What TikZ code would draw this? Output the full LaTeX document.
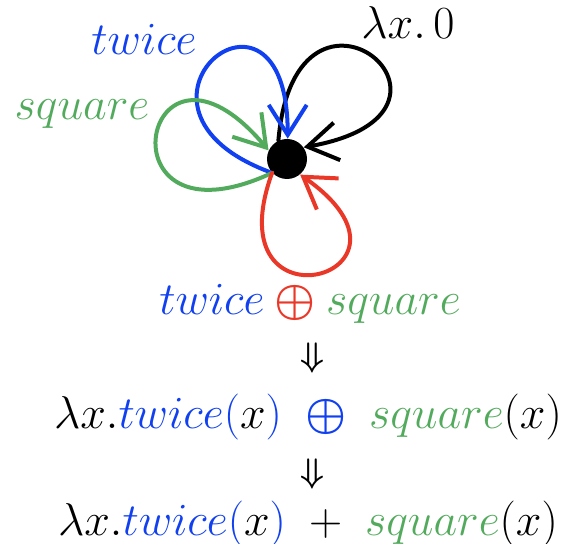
\RequirePackage{fix-cm}
\documentclass[tikz,border=0pt]{standalone}
\usepackage{amsmath}
\usepackage{xcolor}
\usepackage{tikz}
\usetikzlibrary{arrows.meta,positioning}
\definecolor{twiceblue}{RGB}{16,64,240}
\definecolor{squaregreen}{RGB}{82,170,92}
\definecolor{sumred}{RGB}{234,56,40}
\tikzset{
  vert/.style   = {circle, fill=black, minimum size=20pt, inner sep=0pt},
  fnloop/.style = {-{Straight Barb[length=15pt,width=19pt]}, line width=2pt,
                   line cap=round},
  lbl/.style    = {font=\fontsize{23}{28}\selectfont, inner sep=0pt, anchor=base},
  redu/.style   = {font=\fontsize{17}{20}\selectfont, inner sep=0pt},
}

\begin{document}
\begin{tikzpicture}[x=0.5pt, y=0.5pt]
  \useasboundingbox (0,0) rectangle (578,-544);
  \node[vert] (v) at (287,-159) {};
  \draw[fnloop] (v.115) to[out=85, in=10, distance=100pt] (v.35);
  \draw[fnloop, twiceblue] (v.223) to[out=160, in=90, distance=95pt] (v.88);
  \draw[fnloop, squaregreen] (v.223) to[out=205, in=130, distance=98pt] (v.155);
  \draw[fnloop, sumred] (v.223) to[out=250, in=-35, distance=88pt] (v.-50);
  % labels of the loops
  \node[lbl] (lzero) at (408,-39) {$\lambda x.\,0$};
  \node[lbl, text=twiceblue] (ltwice) at (144,-55) {$twice$};
  \node[lbl, text=squaregreen] (lsquare) at (82,-120) {$square$};
  % reduction
  \node[lbl] (sum) at (310,-315)
    {$\textcolor{twiceblue}{twice} \mathbin{\textcolor{sumred}{\boldsymbol{\oplus}}} \textcolor{squaregreen}{square}$};
  \node[redu] (d1) at (312,-358) {$\boldsymbol{\Downarrow}$};
  \node[lbl] (lam) at (308,-429)
    {$\lambda x.{\color{twiceblue}twice(}x{\color{twiceblue})} \;\mathbin{\color{twiceblue}\boldsymbol{\oplus}}\; {\color{squaregreen}square}(x)$};
  \node[redu] (d2) at (312,-474) {$\boldsymbol{\Downarrow}$};
  \node[lbl] (plus) at (308,-536)
    {$\lambda x.{\color{twiceblue}twice(}x{\color{twiceblue})} \;+\; {\color{squaregreen}square}(x)$};
\end{tikzpicture}
\end{document}
